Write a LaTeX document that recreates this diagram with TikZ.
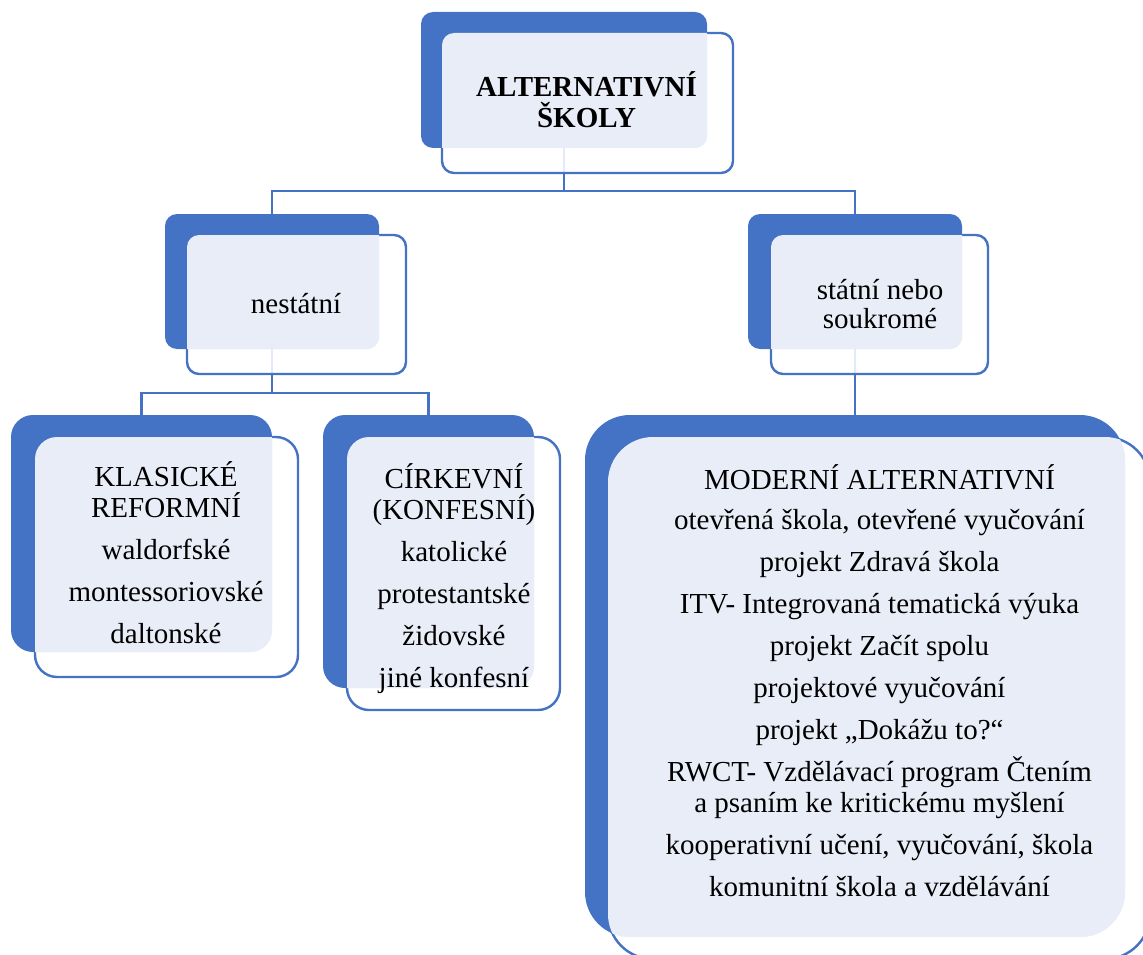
\documentclass[tikz,border=0pt]{standalone}
\usepackage{fontspec}
\setmainfont{Liberation Serif}
\usetikzlibrary{backgrounds}
\definecolor{sablue}{HTML}{4472C4}
\definecolor{salight}{HTML}{E9EDF7}
\tikzset{
  backbox/.style={rectangle, fill=sablue, draw=none, inner sep=0pt, outer sep=0pt},
  frontbox/.style={rectangle, draw=sablue, line width=2.4pt, fill=white, fill opacity=0.85, inner sep=0pt, outer sep=0pt},
  conn/.style={draw=sablue, line width=2.5pt},
  lbl/.style={anchor=base, align=center, inner sep=0pt, outer sep=0pt, text=black,
    font=\fontsize{29}{31}\selectfont},
}
\newcommand\pairbox[9]{%
  \node[backbox, rounded corners=\boxr, minimum width={(#4-#2)*1pt}, minimum height={(#5-#3)*1pt}] (#1b) at ({(#2+#4)/2},{(#3+#5)/2}) {};
  \node[frontbox, rounded corners=\boxr, minimum width={(#8-#6)*1pt}, minimum height={(#9-#7)*1pt}] (#1f) at ({(#6+#8)/2},{(#7+#9)/2}) {};
  \begin{scope}
    \clip[rounded corners=\boxr] (#1b.south west) rectangle (#1b.north east);
    \fill[salight, rounded corners=\boxr] (#1f.south west) rectangle (#1f.north east);
  \end{scope}
}
\begin{document}
\setlength{\lineskiplimit}{-50pt}
\begin{tikzpicture}[x=1pt, y=-1pt]
\useasboundingbox (0,0) rectangle (1143,955);
\clip (0,0) rectangle (1143,955);

\def\boxr{12pt}
\pairbox{t}{421}{12}{707}{148}{442}{33}{733}{173}
\pairbox{n}{165}{214}{379}{349}{187}{235}{406}{374}
\pairbox{s}{748}{214}{962}{349}{771}{235}{988}{374}
\def\boxr{22pt}
\pairbox{k}{11}{415}{272}{652}{35}{437}{298}{677}
\pairbox{c}{323}{415}{534}{688}{347}{437}{560}{710}
\def\boxr{45pt}
\pairbox{m}{585}{415}{1125}{937}{608}{437}{1150}{959}

\coordinate (j1) at (564,191);
\coordinate (j2) at (272,393);
\begin{pgfonlayer}{background}
  \draw[conn] (tb.south) -- (j1);
  \draw[conn] (nb.north) |- (j1) -| (sb.north);
  \draw[conn] (nb.south) -- (j2);
  \draw[conn] (kb.north) |- (j2) -| (cb.north);
  \draw[conn] (sb.south) -- (mb.north);
\end{pgfonlayer}

\node[lbl, font=\fontsize{29}{31}\selectfont\bfseries] (ttxt) at (586.5,128) {ALTERNATIVNÍ\\ŠKOLY};
\node[lbl] (ntxt) at (296,313) {nestátní};
\node[lbl] (stxt) at (880,328) {státní nebo\\[-2pt]soukromé};
\node[lbl] (ktxt) at (166,643) {KLASICKÉ\\REFORMNÍ\\[11pt]waldorfské\\[11pt]montessoriovské\\[11pt]daltonské};
\node[lbl] (ctxt) at (454,687) {CÍRKEVNÍ\\(KONFESNÍ)\\[11pt]katolické\\[11pt]protestantské\\[11pt]židovské\\[11pt]jiné konfesní};
\node[lbl] (mtxt) at (879.5,896) {MODERNÍ ALTERNATIVNÍ\\[9pt]otevřená škola, otevřené vyučování\\[11pt]projekt Zdravá škola\\[11pt]ITV- Integrovaná tematická výuka\\[11pt]projekt Začít spolu\\[11pt]projektové vyučování\\[11pt]projekt „Dokážu to?“\\[11pt]RWCT- Vzdělávací program Čtením\\a psaním ke kritickému myšlení\\[11pt]kooperativní učení, vyučování, škola\\[11pt]komunitní škola a vzdělávání};
\end{tikzpicture}
\end{document}
